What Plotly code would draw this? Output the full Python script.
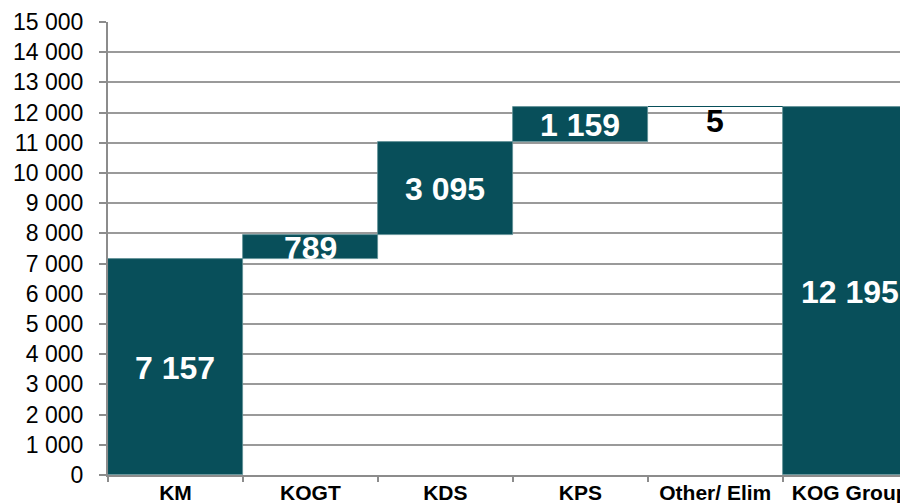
import plotly.graph_objects as go

categories = ["KM", "KOGT", "KDS", "KPS", "Other/ Elim", "KOG Group"]
values = [7157, 789, 3095, 1159, -5, 12195]
measures = ["relative", "relative", "relative", "relative", "relative", "total"]
y_ticks = list(range(0, 15001, 1000))

BAR = "#084F5A"
FONT = "Arial, Liberation Sans, sans-serif"

# compute label anchor points from data
bases, tops = [], []
running = 0
for v, m in zip(values, measures):
    if m == "total":
        b, t = 0, running
    else:
        b, t = running, running + v
        running += v
    bases.append(min(b, t))
    tops.append(max(b, t))

def fmt(v):
    return f"{abs(v):,}".replace(",", " ")

fig = go.Figure()
fig.add_trace(go.Waterfall(
    x=categories, y=values, measure=measures,
    increasing=dict(marker=dict(color=BAR, line=dict(color="#5f8f96", width=0.8))),
    decreasing=dict(marker=dict(color=BAR, line=dict(width=0))),
    totals=dict(marker=dict(color=BAR, line=dict(color="#5f8f96", width=0.8))),
    connector=dict(visible=False),
    textinfo="none", hoverinfo="skip", showlegend=False,
))

for i, (c, v, b, t, m) in enumerate(zip(categories, values, bases, tops, measures)):
    txt = fmt(t) if m == "total" else fmt(v)
    if abs(v) < 100:
        fig.add_annotation(x=c, y=t, text=f"<b>{txt}</b>", showarrow=False,
                           yanchor="top", yshift=6,
                           font=dict(family=FONT, size=32, color="black"))
    else:
        fig.add_annotation(x=c, y=(b + t) / 2, text=f"<b>{txt}</b>", showarrow=False,
                           yanchor="middle", yshift=-1,
                           font=dict(family=FONT, size=32, color="white"))

fig.update_layout(
    width=900, height=503,
    margin=dict(l=108, r=0, t=22, b=28, autoexpand=False),
    paper_bgcolor="white", plot_bgcolor="white",
    waterfallgap=0,
    separators=". ",
    font=dict(family=FONT, color="black"),
    xaxis=dict(
        type="category", range=[-0.5, 5.369], automargin=False,
        tickson="boundaries", ticks="outside", ticklen=5, tickwidth=1.5,
        tickcolor="#8c8c8c", showline=True, linecolor="#8c8c8c", linewidth=2,
        showgrid=False, ticklabelstandoff=-2,
        tickfont=dict(family=FONT, size=21, color="black", weight="bold"),
    ),
    yaxis=dict(
        range=[0, 15000], tickvals=y_ticks, tickformat=",", automargin=False,
        ticks="outside", ticklen=7, tickwidth=1.5, tickcolor="#8c8c8c",
        showline=True, linecolor="#8c8c8c", linewidth=2,
        showgrid=True, gridcolor="#9a9a9a", gridwidth=1.5,
        zeroline=False, ticklabelstandoff=11,
        tickfont=dict(family=FONT, size=23, color="black"),
    ),
)

fig.write_html(
    "out.html",
    config={"displayModeBar": False},
    post_script="document.body.style.margin='0';document.body.style.overflow='hidden';",
)
